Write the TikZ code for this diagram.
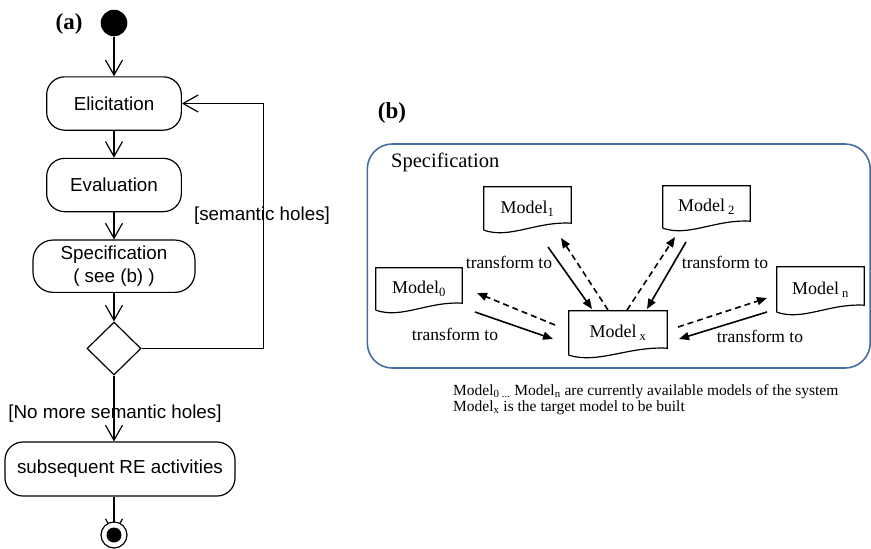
\documentclass[tikz,border=0pt]{standalone}
\usepackage{fontspec}
\setmainfont{Liberation Serif}
\newfontfamily\arialfont{Liberation Sans}
\usetikzlibrary{arrows.meta,calc,shapes.geometric}

\definecolor{specblue}{RGB}{70,110,160}

\tikzset{
  flow/.style={line width=1.2pt, -{Straight Barb[length=15pt,width=17pt,line width=1.2pt]}},
  activity/.style={draw, line width=1.2pt, rounded corners=18pt, font=\arialfont\fontsize{18.8}{21.5}\selectfont, align=center, inner sep=0pt},
  guard/.style={font=\arialfont\fontsize{18.8}{21.5}\selectfont, inner sep=0pt},
  panel/.style={font=\bfseries\fontsize{23}{26}\selectfont, inner sep=0pt},
  docnode/.style={inner sep=0pt, font=\fontsize{18}{20}\selectfont},
  docline/.style={line width=1.2pt},
  xform/.style={line width=1.6pt, -{Triangle[length=10pt,width=8pt]}},
  xformback/.style={xform, dash pattern=on 6pt off 4pt},
  xlabel/.style={font=\fontsize{17.5}{20}\selectfont, inner sep=0pt},
  notetext/.style={anchor=base west, inner sep=0pt, font=\fontsize{15.5}{16}\selectfont},
}

% outline of a document symbol laid over a named node
\newcommand\docoutline[1]{%
  \draw[docline] (#1.south west) -- (#1.north west) -- (#1.north east) -- ($(#1.south east)+(0,-7)$)
    .. controls ($(#1.south west)!0.6!(#1.south east)+(0,-9)$) and ($(#1.south west)!0.3!(#1.south east)+(0,9)$) .. (#1.south west);}

\begin{document}
\begin{tikzpicture}[x=1pt,y=-1pt]
\useasboundingbox (0,0) rectangle (871,549);

% ---------- (a) activity flow ----------
\node[panel] (la) at (69,24) {(a)};
\node[circle, fill=black, minimum size=26.6pt, inner sep=0pt] (init) at (114,23) {};

\node[activity, minimum width=134.7pt, minimum height=53.3pt] (elic) at (114,103.5) {Elicitation};
\node[activity, minimum width=134.7pt, minimum height=53.3pt] (eval) at (114,185) {Evaluation};
\node[activity, minimum width=162pt, minimum height=52.3pt, rounded corners=20pt] (spec) at (114,266.2) {Specification\\[1pt]( see (b) )};
\node[diamond, draw, line width=1.2pt, minimum width=54pt, minimum height=53pt, inner sep=0pt] (dec) at (114,348.5) {};
\node[activity, minimum width=230pt, minimum height=54pt] (subs) at (120,469) {subsequent RE activities};

\coordinate (loopA) at (263.3,348.5);
\coordinate (loopB) at (263.3,103.5);

\draw[flow] (init) -- (elic.north);
\draw[flow] (elic) -- (eval);
\draw[flow] (eval) -- (spec);
\draw[flow] (spec) -- (dec.north);
\draw[flow] (dec.east) -- (loopA) -- (loopB) -- (elic.east);
\draw[flow] (dec.south) -- (dec.south |- subs.north);

\node[guard] (g1) at (262,215.7) {[semantic holes]};
\node[guard] (g2) at (115,414) {[No more semantic holes]};

% final node drawn over the incoming arrow
\coordinate (fc) at (114,535);
\draw[flow] (subs.south -| fc) -- (fc);
\node[circle, draw, fill=white, line width=1.2pt, minimum size=26pt, inner sep=0pt] (final) at (fc) {};
\node[circle, fill=black, minimum size=15pt, inner sep=0pt] (finaldot) at (fc) {};

% ---------- (b) specification by transformation ----------
\node[panel] (lb) at (392,113) {(b)};
\draw[specblue, line width=1.6pt, rounded corners=25pt] (367.3,144) rectangle (870.2,368);
\node[font=\fontsize{20.5}{22}\selectfont, inner sep=0pt, anchor=west] (spectitle) at (391,162) {Specification};

\node[docnode, minimum width=87pt, minimum height=43pt] (m1) at (527.5,208.5) {Model\textsubscript{1}};
\node[docnode, minimum width=87pt, minimum height=42pt] (m2) at (706.5,207) {Model\,\textsubscript{2}};
\node[docnode, minimum width=86pt, minimum height=42pt] (m0) at (419,289) {Model\textsubscript{0}};
\node[docnode, minimum width=87pt, minimum height=45pt] (mn) at (820.5,289.5) {Model\,\textsubscript{n}};
\node[docnode, minimum width=98pt, minimum height=44pt] (mx) at (618,333) {Model\,\textsubscript{x}};
\docoutline{m1}
\docoutline{m2}
\docoutline{m0}
\docoutline{mn}
\docoutline{mx}

% arrow ends beside the documents
\coordinate (a0s) at (475,312);   \coordinate (a0e) at (553,339);
\coordinate (b0s) at (555,325);   \coordinate (b0e) at (477,293);
\coordinate (a1s) at (548,247);   \coordinate (a1e) at (592,309);
\coordinate (b1s) at (608,310);   \coordinate (b1e) at (561,238);
\coordinate (b2s) at (627,310);   \coordinate (b2e) at (675,237);
\coordinate (a2s) at (686,242);   \coordinate (a2e) at (647,309);
\coordinate (bns) at (678,327);   \coordinate (bne) at (767,298);
\coordinate (ans) at (767,312);   \coordinate (ane) at (679,339);

\draw[xform] (a0s) -- (a0e);
\draw[xformback] (b0s) -- (b0e);
\draw[xform] (a1s) -- (a1e);
\draw[xformback] (b1s) -- (b1e);
\draw[xformback] (b2s) -- (b2e);
\draw[xform] (a2s) -- (a2e);
\draw[xformback] (bns) -- (bne);
\draw[xform] (ans) -- (ane);

\node[xlabel] (t0) at (455,334) {transform to};
\node[xlabel] (t1) at (509,262) {transform to};
\node[xlabel] (t2) at (725,262) {transform to};
\node[xlabel] (tn) at (760,336) {transform to};

\node[notetext] (note1) at (453,395)
  {Model\textsubscript{0 ...} Model\textsubscript{n} are currently available models of the system};
\node[notetext] (note2) at (453,411)
  {Model\textsubscript{x} is the target model to be built};
\end{tikzpicture}
\end{document}
